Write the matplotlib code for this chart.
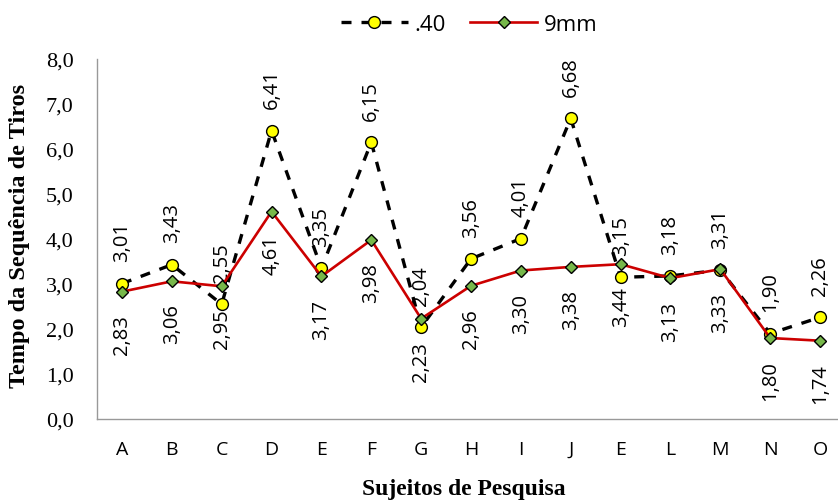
import matplotlib.pyplot as plt
from matplotlib.ticker import FuncFormatter

# data
sujeitos = ['A', 'B', 'C', 'D', 'E', 'F', 'G', 'H', 'I', 'J', 'E', 'L', 'M', 'N', 'O']
cal40 = [3.01, 3.43, 2.55, 6.41, 3.35, 6.15, 2.04, 3.56, 4.01, 6.68, 3.15, 3.18, 3.31, 1.90, 2.26]
mm9 = [2.83, 3.06, 2.95, 4.61, 3.17, 3.98, 2.23, 2.96, 3.30, 3.38, 3.44, 3.13, 3.33, 1.80, 1.74]

sans = 'Open Sans'
serif = 'Liberation Serif'

fig = plt.figure(figsize=(8.38, 5.02), dpi=100)
ax = fig.add_axes([0.1158, 0.1633, 0.8842, 0.7172])

x = list(range(len(sujeitos)))

ax.plot(x, cal40, color='black', linestyle=(0, (3, 3)), linewidth=2.4,
        marker='o', markersize=8.5, markerfacecolor='#ffff00', markeredgecolor='black',
        markeredgewidth=1.0, label='.40', zorder=3)
ax.plot(x, mm9, color='#cc0000', linewidth=1.9,
        marker='D', markersize=6.5, markerfacecolor='#77b84a', markeredgecolor='black',
        markeredgewidth=1.0, label='9mm', zorder=4)

def br(v):
    return f'{v:.2f}'.replace('.', ',')

# rotated data labels, .40 above and 9mm below
for xi, v in zip(x, cal40):
    ax.annotate(br(v), (xi, v), xytext=(0, 16), textcoords='offset points',
                rotation=90, ha='center', va='bottom', fontsize=14.5, family=sans)
for xi, v in zip(x, mm9):
    ax.annotate(br(v), (xi, v), xytext=(0, -16), textcoords='offset points',
                rotation=90, ha='center', va='top', fontsize=14.5, family=sans)

ax.set_xlim(-0.5, 14.36)
ax.set_ylim(0, 8)
ax.set_yticks(range(0, 9))
ax.yaxis.set_major_formatter(FuncFormatter(lambda v, p: f'{v:.1f}'.replace('.', ',')))
ax.set_xticks(x)
ax.set_xticklabels(sujeitos, family=sans, fontsize=14)
for t in ax.get_yticklabels():
    t.set_family(serif)
    t.set_fontsize(16)
ax.tick_params(axis='both', length=0)
ax.tick_params(axis='x', pad=15)
ax.tick_params(axis='y', pad=17)

for s in ['top', 'right']:
    ax.spines[s].set_visible(False)
for s in ['left', 'bottom']:
    ax.spines[s].set_color('#999999')
    ax.spines[s].set_linewidth(1.0)

ax.set_xlabel('Sujeitos de Pesquisa', family=serif, fontweight='bold', fontsize=17, va='center')
ax.set_ylabel('Tempo da Sequência de Tiros', family=serif, fontweight='bold', fontsize=17.5, va='center')
ax.xaxis.set_label_coords(0.495, -0.194)
ax.yaxis.set_label_coords(-0.104, 0.51)

leg = fig.legend(loc='center', bbox_to_anchor=(0.56, 0.95), ncol=2, frameon=False,
                 prop={'family': sans, 'size': 16}, handlelength=3.0, columnspacing=1.1,
                 handletextpad=0.3)

fig.savefig('out.png', dpi=100)
